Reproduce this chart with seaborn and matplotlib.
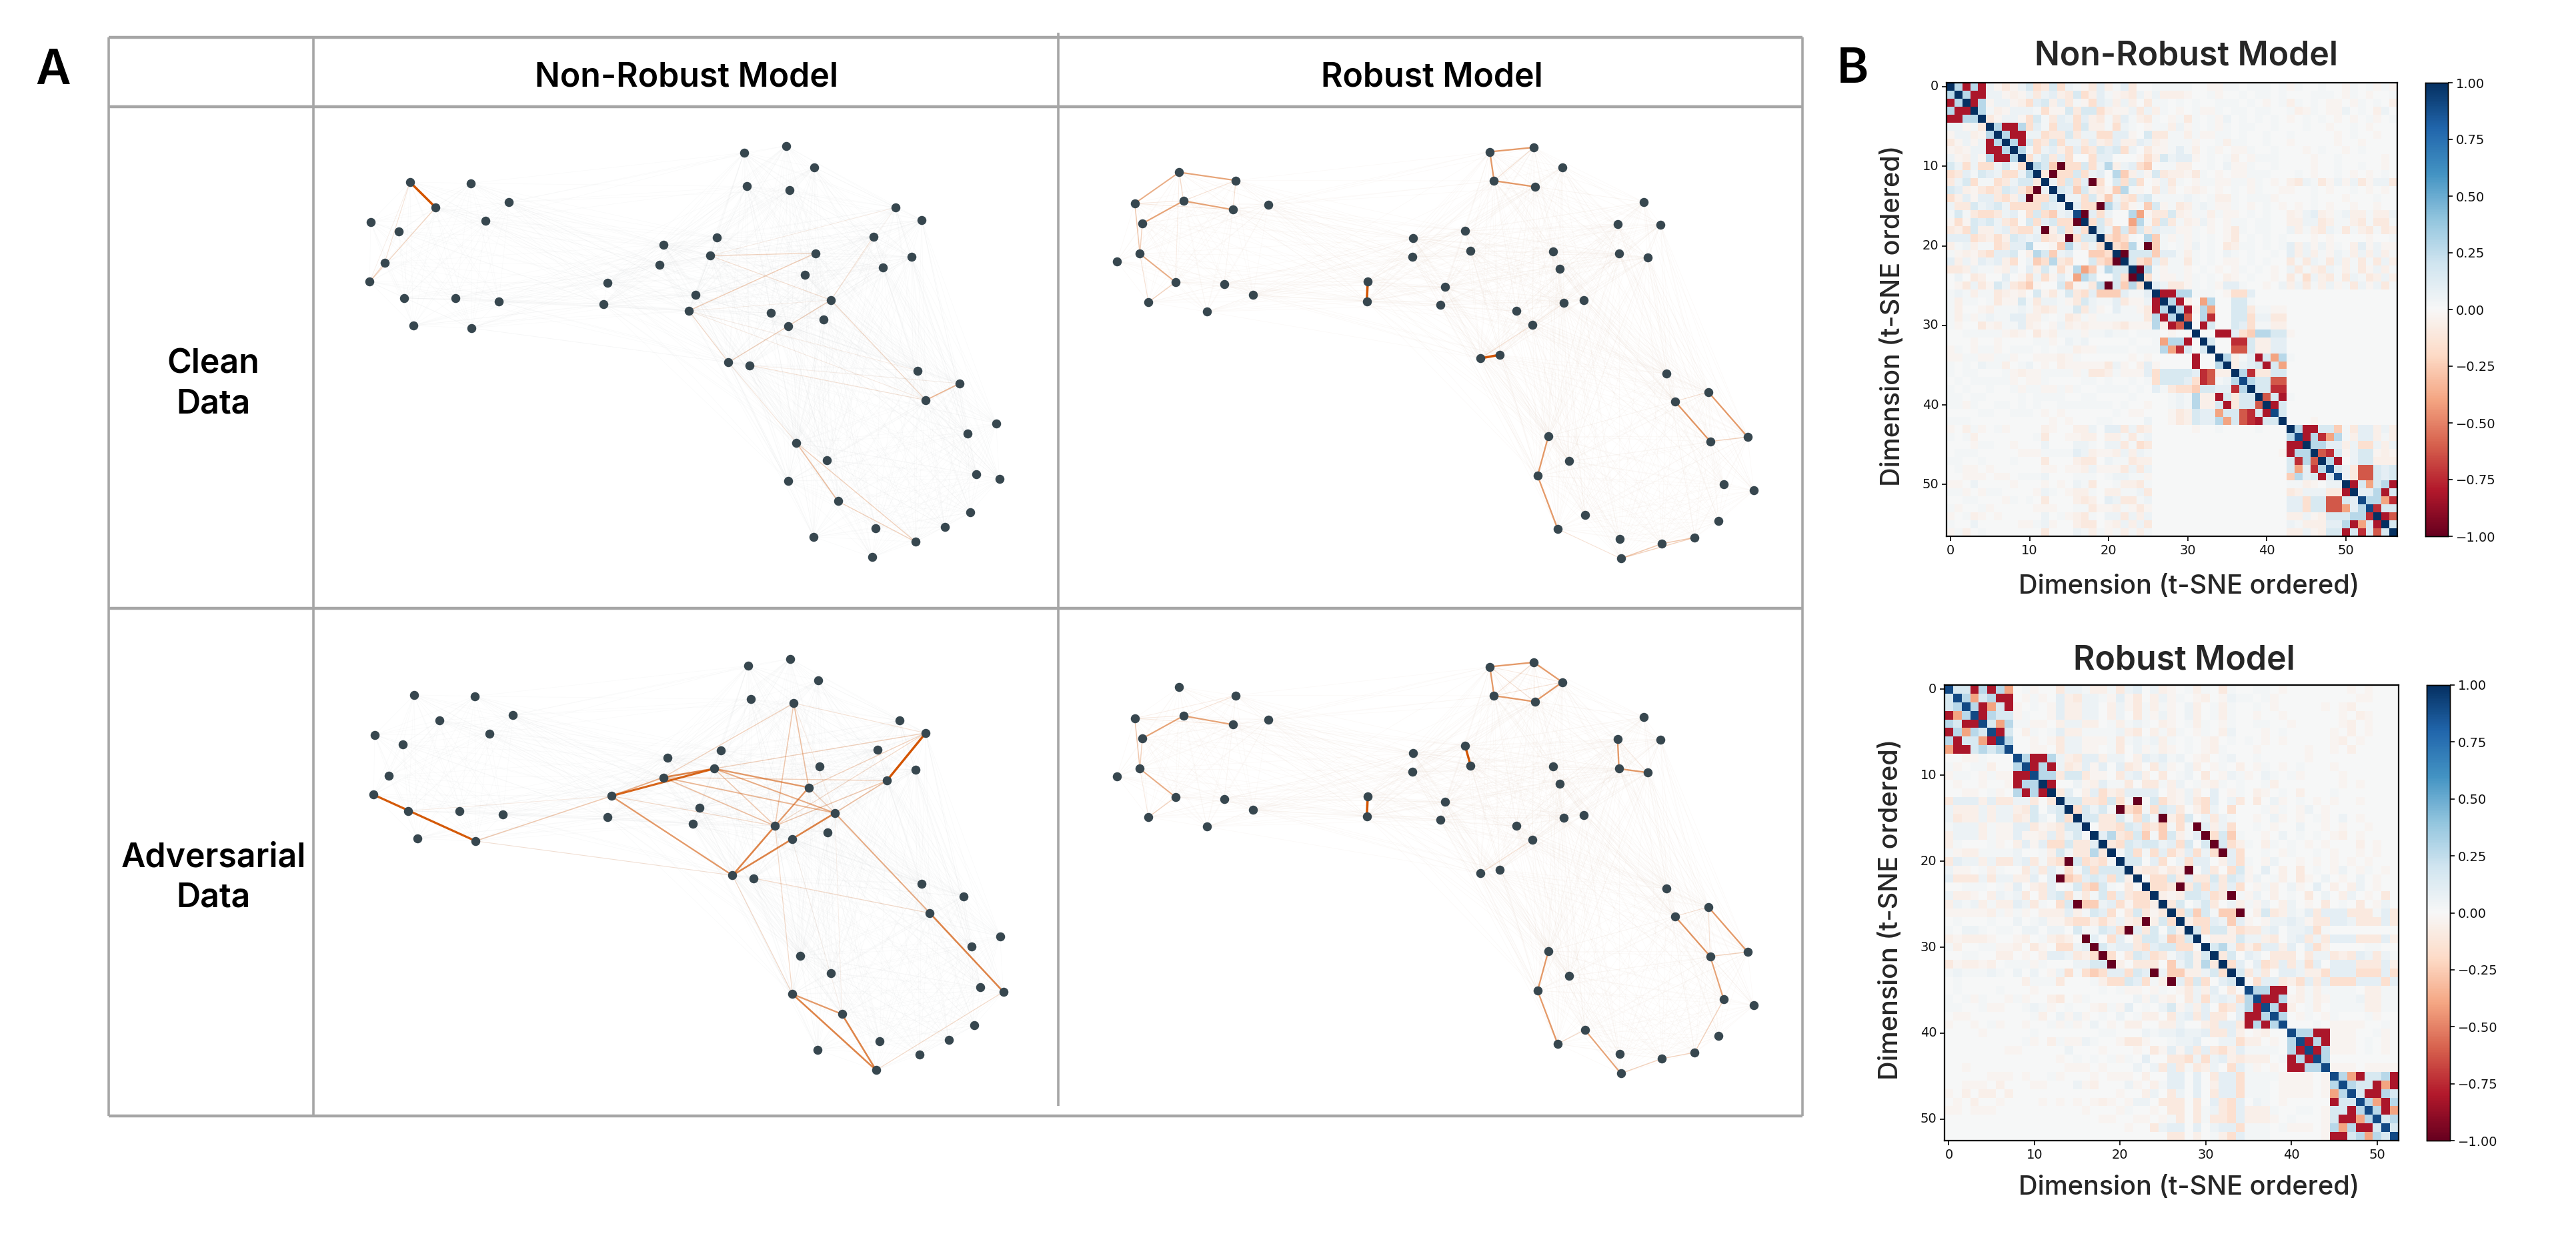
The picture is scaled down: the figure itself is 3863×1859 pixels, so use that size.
import numpy as np
import matplotlib
matplotlib.use("Agg")
import matplotlib.pyplot as plt
import seaborn as sns
from matplotlib.collections import LineCollection
from matplotlib.ticker import FuncFormatter

W, H = 3863, 1859
sns.set_theme(style="white")
plt.rcParams['font.family'] = ['Inter', 'DejaVu Sans']

# ---- network layouts ----
nr_x = [192,322,404,247,354,108,168,138,106,180,289,382,199,324,906,996,1056,912,1004,1230,1286,1183,1264,1203,1036,1059,848,734,834,725,614,606,803,788,1092,964,1076,1000,873,918,1277,1367,1295,1445,1384,1018,1083,1001,1107,1403,1452,1390,1335,1188,1055,1273,1180]
nr_y = [218,222,282,299,341,345,375,474,535,586,586,598,674,682,125,103,171,232,244,299,339,391,456,490,512,444,394,417,452,480,539,606,576,627,593,634,654,676,791,800,817,858,911,985,1017,1046,1102,1168,1232,1147,1161,1268,1313,1318,1345,1361,1410]
rb_x = [240,361,145,249,355,430,161,156,107,232,336,398,174,299,904,998,1059,913,1000,1233,1177,1269,1180,1241,1039,1053,851,740,863,738,643,641,808,798,1062,1105,961,995,884,925,1282,1371,1300,1455,1375,1029,1074,1006,1107,1404,1468,1393,1342,1182,1049,1272,1184]
rb_y = [187,213,286,278,306,290,350,446,470,536,542,577,600,630,122,108,171,214,233,282,351,353,446,458,438,494,373,397,436,455,533,597,551,608,602,593,628,672,778,767,826,885,915,1028,1042,1026,1105,1151,1275,1179,1198,1295,1347,1351,1320,1367,1414]

# (node, node, strength)
edges_nr_clean = [(0,3,1.0),(0,7,.2),(0,8,.12),(3,8,.28),(7,8,.25),(28,25,.28),(33,25,.32),(28,34,.22),(19,28,.14),(21,34,.2),(19,34,.1),
                  (34,37,.3),(37,38,.3),(33,38,.25),(33,34,.12),(34,42,.25),(41,42,.45),(38,45,.18),(45,48,.4),(48,55,.3),(45,55,.3),
                  (39,42,.2),(39,41,.12),(33,42,.15),(33,40,.13)]
edges_nr_adv = [(8,13,.9),(30,28,.85),(30,29,.5),(29,28,.7),(20,23,.95),(28,24,.6),(28,34,.5),(29,34,.45),(29,35,.4),(28,35,.35),(30,35,.25),
                (29,23,.3),(35,24,.6),(35,38,.7),(37,38,.7),(34,37,.7),(30,38,.6),(35,23,.35),(35,20,.25),(34,23,.4),(24,20,.3),(34,24,.3),
                (28,20,.3),(18,35,.35),(18,24,.4),(18,29,.3),(18,20,.2),(18,34,.15),(13,30,.35),(9,30,.15),(13,38,.2),(34,42,.5),(39,42,.25),
                (42,50,.7),(47,48,.6),(47,56,.7),(48,56,.7),(56,50,.25),(38,47,.25),(35,47,.25),(34,48,.12),(37,48,.12)]
edges_rb_clean = [(0,1,.55),(0,2,.5),(0,3,.25),(2,3,.15),(2,4,.15),(1,3,.2),(1,4,.2),(3,4,.55),(3,6,.55),(2,7,.35),(6,7,.3),(7,9,.5),(9,12,.3),
                  (7,12,.2),(0,9,.13),(30,31,1.0),(38,39,1.0),(14,15,.6),(14,17,.6),(17,18,.6),(15,17,.2),(41,43,.6),(42,44,.6),(43,44,.3),
                  (41,42,.2),(45,47,.6),(47,54,.6),(54,56,.2),(56,55,.35),(55,52,.35),(56,52,.3),(37,38,.2),(37,34,.12)]
edges_rb_adv = [(1,3,.2),(1,2,.12),(3,4,.55),(3,6,.55),(2,7,.35),(6,7,.3),(2,3,.15),(2,4,.15),(7,9,.5),(9,12,.3),(7,12,.15),(30,31,1.0),(26,28,.95),
                (14,15,.6),(15,16,.6),(16,18,.6),(17,18,.6),(14,17,.6),(14,16,.15),(15,17,.2),(15,18,.12),(14,18,.2),(17,16,.2),(20,22,.6),(22,23,.6),
                (20,23,.15),(41,43,.6),(42,44,.6),(43,44,.3),(41,44,.2),(41,42,.2),(44,49,.55),(49,52,.3),(52,55,.3),(55,56,.3),(48,56,.55),(48,54,.25),
                (47,54,.6),(45,47,.6),(38,37,.2)]

# ---- correlation matrices, upper triangle, one letter per cell ----
LEVELS = {'.':0,'a':.03,'b':.06,'c':.10,'d':.16,'e':.28,'f':.38,'y':.9,'z':1,
          'A':-.03,'B':-.06,'C':-.10,'D':-.16,'E':-.25,'F':-.40,'G':-.62,'H':-.74,'K':-.82,'L':-1}
nr_diag = "zzzzz zzzzz zzzzz zyzzz zzzzz zzzzz zzzzz zzyzz zyzzy zzzyy zzyyz zz"
nr_rows = [
"eKeK bACAb dDCdDbaACc BacC..aaaa a..AAaa.aa a.a Aa..a..Aa.aAaA",
"eKK bbABA bCbcBCdDBc aABCbAbBBB A..aA..a.a a.a ...aaa.Aa.A..a",
"Ke AbbAB DcdBcCaADc bBbB.Caa.a .a..aaa.a. A.a Ba.a.AA.Aa.a.B",
"e aBAbb baDAAdCddD BAAbCbBa.A .aAAa.aa.a a.. aBAa.AAb.a.Bb.",
"CAbbA DdaCcbDcBC aCcaBCa.Aa Ca.aAb.a.a .a. A.a.a.A.A.aA.a",
"eKKe DcaDccDdBB aDba.AaaBb Aa.aAa.aa. .a. ..a..A..a.A...",
"eKK bbDCCdCbbD DccA.dCCaa BaAAaa.a.. a.. a.....A.a..A..",
"eK dDCdDbbCcB CcBBcbBAaa aA..aBaa.. a.. A.....A..A....",
"e aDbcBDcDCd cdDb.CAAac aB.aA.AAa. .a. ..A.a..A.a....",
"DbdCcD..Dc c...ADBdbc cA.a.aB.Aa aa. ...A..a.....A.",
"edELDDdDb eBbcDE.aaB B..a.bAAa. .a. ...A..a..a..A.",
"CLDDdDbc .eEBbAdCBB ACa.A.AAaa a.. .a.A..a.A.A.a.",
"bDdDcLD .dDdD.AbCa .AaaAAaaAa .A. BCbaCAbAbCAbbC",
"dcEdBC AEeaA.CbB. ABA.A.a.Aa ..A A..a.A..a.A.A.",
"bbDdB EbCDcdaaaa ba.aBBa.aa aA. ...a...A...a..",
"cDDL ecDAaEdAaC BabaAAa.A. a.A .A.a.A..A..A..",
"LcD b..eFACCdB AaaBaAA.a. a.. BAbcBAabBBaBBb",
"Dd C..FeaDdCa BAbA.Aaa.a a.. BBbbCBaaBCaCCa",
"d bEdEdCcbbA Aa.A.ACa.a a.. bBaBCbaCaBCaCB",
"DEDa.eEaAa Aa.a.AC.a. a.a ...A.A....A..a",
"DEe.LEa.a Ab.a.CBaa. a.a cBbAbAa.BcAbAA",
"LdddEcca Ba.a.ba.a. .a. cBbBaAbaBbBbBa",
"dDEcCaa Ca.a.AA.a. a.. CaCbaCbBaCaCbB",
"LeaAaa A.a.A.Aa.a .A. bCaBCbaBaCAbBa",
"DaAAa Aa.a.BA.a. .A. CaDbBCaCbaCBbB",
"cbCC Aa.aAcca.. A.b BbCaBbAaCbAbCa",
"KKee aaa.ADDc.... ..............",
"eKB.Fe..dda.... ..............",
"eKAeF..ddCaaAA ..............",
"G.eH..ddDbbCC ..............",
".Kd..dcDaaBB ..............",
"..KKcDEeedd A.............",
"d..HHdBBcc ..............",
"..GGdBBcc ..............",
"eBacKdFe a.............",
"BbcdKdF ..............",
"eHCCdd ..............",
"eddGG ..............",
"ddHH ..............",
"GdK a.............",
"Kd ..............",
"d ..............",
"...A..........",
"eKKddEaCccBbB",
"KeHFeaBccBaB",
"eeccBbDDbBb",
"GHdAbddABA",
"eK.bddBBB",
"dbCGGdcd",
"bCGGdcd",
"KdFdeK",
"cceKd",
"eeFH",
"Hdd",
"KG",
"d",
]
rb_diag = "yyyyy yyyyy yzzzz zzzzz zzzzz zzzzz zzzzz yyyyy yyyyy yyyyy yyy"
rb_rows = [
"ddKeKeF .aA..CbbaBBaCbc.bB A.aBa.Ca. .aa.A.......A.A...",
"eFdeKK .AaA.cBCbbaAcAC.Bb Aa.AB.Aba a.aA.........AA...",
"eKFdK A.a.AcBBbb.BbACaBa A.bB.aBa. .a.A.....A.AB.....",
"Kedd Aa..AcBBbb.Bb.CaAb A.bB.aBa. .A..A......A.BA...",
"dFe aaAA.BbbBB.aBaba.B A.aBa.Aa. .aa..A.....AB.A...",
"Kd .Ba.acBBaaaabBC.Ba Ba.Aa.Bb. ..A.a.....A.B.A...",
"e ..A.ACbbAAAaCabab B a.a.AB.a. a.A.A.....AB.A....",
"..AA.CbbAA.aC.bAaB A.a.ABa.. .A.....A..A.B.....",
"eKKe bBCccBbb.Bcbc ab.AB.ab. .a.....A..........",
"KeK bCBcAc.cCB.Cb A.bB.Aa.B .Aa.A.a...A.......",
"ee CddCAA.CbcB.C .ab.C.Aba A.ba.aA....A......",
"K ..bABcaaC.CCa Bb.aABa.a ..aB.......A.A....",
"Cc.BcDBCcccc. BAbB.c.Aa .BA.a.B...a.......",
"ddCCDdDaL.dD BAbCDc.bC .C.bA.a.A.A..A....",
"DdbdaLDEaDd cC.BDb.D. ..aAa.Ab.A........",
"ddCCdaDdaL BDd.bCba. .A.bA.A.aA.b.A....",
".CCDdcDCE aDaLcBbD. .a.A..b..A.A..A...",
"ceCDdEaE dBacLDdEa ..A.b.a.a.AB.A....",
"CDdcddb cDd.dLdDB a.Ba.a.A.A...B.A..",
"adDaDc DBcDbDLcD ..a.Aa..a.A..A.A..",
"dd.cD .bDcc.BcD a.Ab..A.A.A.A.A...",
"BCCA CBL.cC.Dd A.c.B.C.a.Ab.Aa.A.",
".DD dCcCCdCdc Ab.aB.CA.b.A.b.A..",
"DD CLCdDcCcD .AaB.bA.c.B.Bb.A..",
"B ABddcDCLa Ab.B.a.C.b.Bb.A.C.",
"Cd.bdC.bB aAb.Bb.A.C.a.C.Ab.",
"DdEdaEEL .BdCBbacCcccCCCacC",
"BDDcbEc A.AbbcbACCccbCCCcC",
"dDddBD CCbc.bbcDa........",
".BBBd bbBC.bcCbCcccCCCcB",
"debD BDccBc.cDB....aa..",
"Cd. cb.CCC.CbbCBCcbCba",
"Dc .cDCcCbDc.cccCCCcB",
"d CbC.ccbBBDcccDDDcD",
".DccCBDcCcDDDcccDc",
"eeKK .BaBaaaa.BBaa",
"KKe ABaBAaaabBBaa",
"eK B.aB.aaaaBBaa",
"e .Aa.Aa...aA..",
"...a.AAAA..a..",
"eeKK AAA..aA.",
"KeK AAA.a.A.",
"Ke AAA.a.A.",
"e ........",
"AAA.AAAA",
"eFKddeK",
"eddKFK",
"dKKed",
"eFKe",
"eKF",
"de",
"d",
]
tick_vals = [0, 10, 20, 30, 40, 50]
cbar_ticks = [-1, -.75, -.5, -.25, 0, .25, .5, .75, 1]

NODE = '#37474f'; EDGE = '#d35400'; GRID = '#a6a6a6'


def matrix(rows, diag):
    d = diag.replace(' ', '')
    M = np.zeros((len(d), len(d)))
    for i, ch in enumerate(d):
        M[i, i] = LEVELS[ch]
    for i, row in enumerate(rows):
        for k, ch in enumerate(row.replace(' ', '')):
            j = i + 1 + k
            if j < len(d):
                M[i, j] = M[j, i] = LEVELS[ch]
    return M


def axes_px(x0, y0, x1, y1):
    return fig.add_axes([x0 / W, 1 - y1 / H, (x1 - x0) / W, (y1 - y0) / H])


fig = plt.figure(figsize=(W / 100, H / 100), dpi=100, facecolor='white')

# ---- panel A: table frame and text ----
frame = axes_px(0, 0, W, H)
frame.set_xlim(0, W); frame.set_ylim(H, 0); frame.axis('off')
frame.hlines([56, 160, 912, 1673], 163, 2703, color=GRID, lw=3.2)
frame.vlines([163, 470, 2703], 56, 1673, color=GRID, lw=2.6)
frame.vlines([1587], 49, 1658, color=GRID, lw=2.6)
hd = dict(ha='center', va='center', fontweight='semibold', color='black')
frame.text(1029, 116, 'Non-Robust Model', fontsize=36, **hd)
frame.text(2147, 116, 'Robust Model', fontsize=36, **hd)
frame.text(320, 576, 'Clean\nData', fontsize=36, linespacing=1.33, **hd)
frame.text(320, 1316, 'Adversarial\nData', fontsize=36, linespacing=1.33, **hd)
frame.text(79, 107, 'A', fontsize=52, **hd)
frame.text(2779, 105, 'B', fontsize=52, **hd)


def network(x0, y0, xs, ys, edges, web_color):
    ax = axes_px(x0, y0, x0 + 1100, y0 + 740)
    xs = np.array(xs, float); ys = np.array(ys, float)
    segs = []
    for i in range(len(xs)):
        for j in range(i + 1, len(xs)):
            if np.hypot((xs[i] - xs[j]) / 1.4255, (ys[i] - ys[j]) / 2.119) < 430:
                segs.append([(xs[i], ys[i]), (xs[j], ys[j])])
    ax.add_collection(LineCollection(segs, colors=web_color, linewidths=.5, alpha=.1, zorder=1))
    for i, j, s in edges:
        ax.plot([xs[i], xs[j]], [ys[i], ys[j]], color=EDGE, lw=.35 + 2.2 * s, alpha=min(1, 1.1 * s ** 1.25),
                solid_capstyle='round', zorder=2)
    sns.scatterplot(x=xs, y=ys, ax=ax, s=95, color=NODE, linewidth=0, legend=False, zorder=3)
    ax.set_xlim(0, 1568); ax.set_ylim(1568, 0)
    ax.axis('off'); ax.patch.set_alpha(0)


network(480, 170, nr_x, nr_y, edges_nr_clean, '#c8ccce')
network(486, 939, nr_x, nr_y, edges_nr_adv, '#c8ccce')
network(1600, 170, rb_x, rb_y, edges_rb_clean, '#e0c4b0')
network(1600, 942, rb_x, rb_y, edges_rb_adv, '#e0c4b0')


# ---- panel B: heatmaps ----
def heat(box, cbox, M, title, title_x, title_pad, xlab_x, xlab_pad, ylab_y):
    ax = axes_px(*box)
    cax = axes_px(*cbox)
    sns.heatmap(M, ax=ax, cbar_ax=cax, cmap='RdBu', vmin=-1, vmax=1, square=False,
                cbar_kws=dict(ticks=cbar_ticks,
                              format=FuncFormatter(lambda v, _: f'{v:.2f}'.replace('-', '\u2212'))))
    ax.set_xticks(np.array(tick_vals) + .5, labels=[str(v) for v in tick_vals], rotation=0)
    ax.set_yticks(np.array(tick_vals) + .5, labels=[str(v) for v in tick_vals], rotation=0)
    ax.tick_params(left=True, bottom=True, length=5, width=1.2, color='black', labelsize=14, labelcolor='#111111')
    for t in ax.get_xticklabels() + ax.get_yticklabels() + cax.get_yticklabels():
        t.set_fontfamily('DejaVu Sans')
    for s in ax.spines.values():
        s.set_visible(True); s.set_color('black'); s.set_linewidth(1.6)
    cax.tick_params(right=True, length=5, width=1.2, color='black', labelsize=14, labelcolor='#111111')
    for s in cax.spines.values():
        s.set_visible(True); s.set_color('black'); s.set_linewidth(1)
    ax.set_title(title, fontsize=36, fontweight='semibold', pad=title_pad, x=title_x)
    ax.set_xlabel('Dimension (t-SNE ordered)', fontsize=28.5, labelpad=xlab_pad, fontweight='medium', x=xlab_x)
    ax.set_ylabel('Dimension (t-SNE ordered)', fontsize=28.5, labelpad=18, fontweight='medium', y=ylab_y)


heat((2919, 124, 3595, 804), (3637, 124, 3671, 804), matrix(nr_rows, nr_diag), 'Non-Robust Model',
     .532, 19, .538, 19, .487)
heat((2916, 1027, 3597, 1710), (3639, 1027, 3674, 1710), matrix(rb_rows, rb_diag), 'Robust Model',
     .527, 17, .539, 15, .508)

fig.savefig('out.png', dpi=100, facecolor='white')
